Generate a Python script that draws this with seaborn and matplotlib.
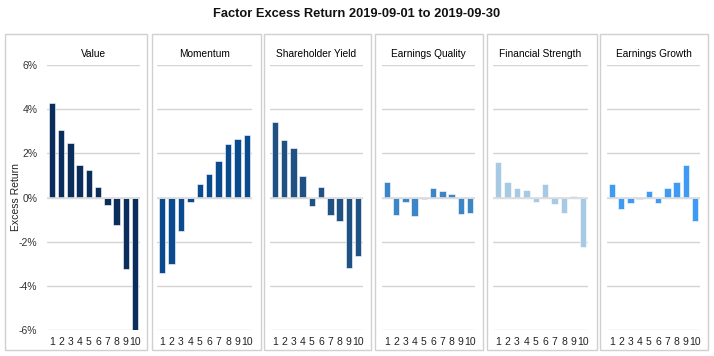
import matplotlib
matplotlib.use("Agg")
import matplotlib.pyplot as plt
import numpy as np
import pandas as pd
import seaborn as sns
from matplotlib.patches import Rectangle
from matplotlib.ticker import FuncFormatter

factors = [
    "Value",
    "Momentum",
    "Shareholder Yield",
    "Earnings Quality",
    "Financial Strength",
    "Earnings Growth",
]
deciles = ["1", "2", "3", "4", "5", "6", "7", "8", "9", "10"]

value = [4.26, 3.05, 2.45, 1.46, 1.24, 0.48, -0.35, -1.25, -3.22, -6.0]
momentum = [-3.41, -2.99, -1.52, -0.2, 0.59, 1.06, 1.66, 2.42, 2.63, 2.81]
shareholder_yield = [3.43, 2.6, 2.22, 0.97, -0.38, 0.48, -0.8, -1.07, -3.17, -2.64]
earnings_quality = [0.71, -0.8, -0.2, -0.85, -0.09, 0.44, 0.3, 0.17, -0.75, -0.7]
financial_strength = [1.59, 0.71, 0.41, 0.36, -0.2, 0.59, -0.3, -0.72, 0.09, -2.23]
earnings_growth = [0.59, -0.5, -0.27, -0.09, 0.3, -0.27, 0.41, 0.71, 1.49, -1.06]

colors = ["#0b2d5b", "#0a4a8f", "#1f5283", "#3a86c6", "#a6c9e4", "#3e9af2"]

series = [value, momentum, shareholder_yield, earnings_quality,
          financial_strength, earnings_growth]

sns.set_style("white")
plt.rcParams["font.family"] = ["Liberation Sans", "DejaVu Sans"]

W, H = 714, 356
fig = plt.figure(figsize=(W / 100, H / 100), dpi=100)

# panel boxes and plotting areas, in pixels (left, right)
boxes = [(5, 147), (152, 261), (264, 371), (375, 483), (487, 597), (600, 708)]
areas = [(47, 140), (157, 252), (270, 363), (382, 475), (493, 588), (607, 700)]
box_top, box_bot = 34, 350
ax_top, ax_bot = 65, 330

fig.text(0.5, 1 - 14 / H, "Factor Excess Return 2019-09-01 to 2019-09-30",
         ha="center", va="center", fontsize=9.3, fontweight="bold",
         color="#111111")

for i, (name, vals) in enumerate(zip(factors, series)):
    bx0, bx1 = boxes[i]
    fig.patches.append(Rectangle((bx0 / W, 1 - box_bot / H), (bx1 - bx0) / W,
                                 (box_bot - box_top) / H, transform=fig.transFigure,
                                 fill=False, edgecolor="#d0d0d0", linewidth=1.0))
    x0, x1 = areas[i]
    ax = fig.add_axes([x0 / W, 1 - ax_bot / H, (x1 - x0) / W, (ax_bot - ax_top) / H])
    df = pd.DataFrame({"decile": deciles, "ret": vals})
    sns.barplot(data=df, x="decile", y="ret", color=colors[i], saturation=1,
                width=0.7, ax=ax, zorder=3, edgecolor="white", linewidth=0.4)
    ax.set_ylim(-6, 6)
    ax.set_xlim(-0.55, 9.55)
    ax.set_yticks(np.arange(-6, 7, 2))
    ax.grid(False)
    for yv in np.arange(-6, 7, 2):
        ax.axhline(yv, color="#d4d4d4", linewidth=1.0, zorder=1)
    ax.axhline(0, color="#dcdcdc", linewidth=1.2, zorder=4)
    for s in ax.spines.values():
        s.set_visible(False)
    ax.set_xlabel("")
    ax.tick_params(axis="x", length=0, pad=5, labelsize=7.5, labelcolor="#222222")
    ax.set_title(name, fontsize=7.3, color="#000000", pad=6)
    if i == 0:
        ax.yaxis.set_major_formatter(FuncFormatter(lambda v, p: f"{v:.0f}%"))
        ax.tick_params(axis="y", length=0, pad=7, labelsize=7.5, labelcolor="#333333")
        ax.set_ylabel("Excess Return", fontsize=7.5, color="#222222")
        ax.yaxis.set_label_coords(-0.28, 0.5)
    else:
        ax.set_yticklabels([])
        ax.tick_params(axis="y", length=0)
        ax.set_ylabel("")

fig.savefig("out.png", dpi=100)
